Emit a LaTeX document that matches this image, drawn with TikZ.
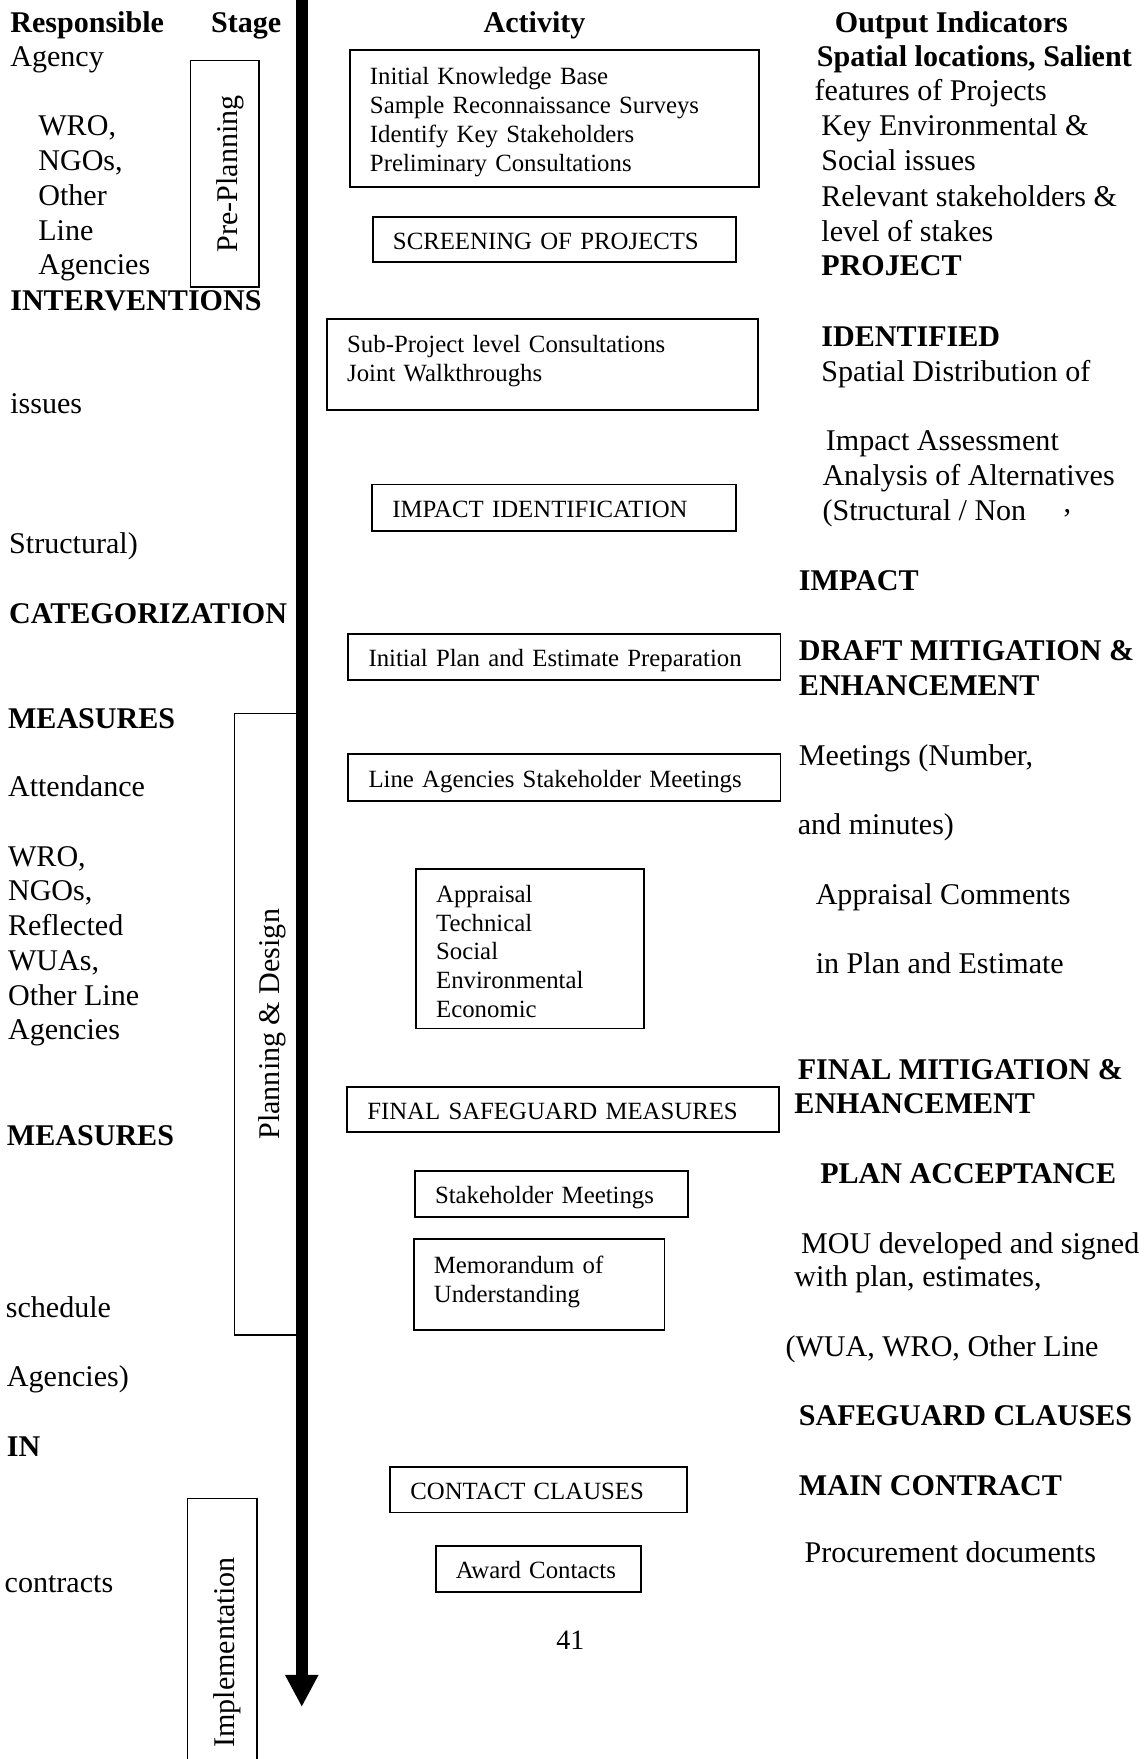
\documentclass[tikz,border=0pt]{standalone}
\usepackage{fontspec}
\setmainfont{Liberation Serif}
\usepackage{tikz}
\usetikzlibrary{arrows.meta, positioning}

\newcommand{\colfont}{\fontsize{26.8pt}{31pt}\selectfont}
\newcommand{\actfont}{\fontsize{22.1pt}{25.8pt}\selectfont}

\begin{document}
\begin{tikzpicture}[
  x=1pt, y=-1pt,
  txt/.style={anchor=base west, inner sep=0pt, font=\colfont},
  txtb/.style={txt, font=\colfont\bfseries},
  act/.style={draw, line width=1.6pt, anchor=north west, inner xsep=0pt, inner ysep=0pt,
    align=left, font=\actfont, text height=17.6pt, text depth=0pt,
    execute at begin node={\leftskip=18pt}},
  stagebox/.style={draw, line width=1.3pt, rotate=90, inner sep=0pt, font=\colfont,
    text height=28pt, text depth=6pt},
  flow/.style={line width=10.5pt, -{Triangle[width=30pt, length=28pt, line width=0pt]}},
]
\useasboundingbox (0,0) rectangle (1021,1568);

% Headers
\node[txtb] (ra-head) at (9,29) {Responsible};
\node[txtb] (st-head) at (188,29) {Stage};
\node[anchor=base, inner sep=0pt, font=\colfont\bfseries] (act-head) at (476.5,29) {Activity};
\node[txtb] (oi-head) at (744,29) {Output Indicators};

% Responsible agency (left column)
\node[txt] (ra-agency) at (9,59) {Agency};
\node[txt] (ra-wro) at (34,121) {WRO,};
\node[txt] (ra-ngo) at (34,152) {NGOs,};
\node[txt] (ra-other) at (34,183) {Other};
\node[txt] (ra-line) at (34,214) {Line};
\node[txt] (ra-agencies) at (34,245) {Agencies};
\node[txtb] (ra-interv) at (9,277) {INTERVENTIONS};
\node[txt] (ra-issues) at (9,369) {issues};
\node[txt] (ra-struct) at (8,493) {Structural)};
\node[txtb] (ra-categ) at (8,556) {CATEGORIZATION};
\node[txtb] (ra-meas) at (7,649) {MEASURES};
\node[txt] (ra-attend) at (7,710) {Attendance};
\node[txt] (ra-wro2) at (7,772) {WRO,};
\node[txt] (ra-ngo2) at (7,803) {NGOs,};
\node[txt] (ra-refl) at (7,834) {Reflected};
\node[txt] (ra-wua) at (7,865) {WUAs,};
\node[txt] (ra-othline) at (7,896) {Other Line};
\node[txt] (ra-agencies2) at (7,927) {Agencies};
\node[txtb] (ra-meas2) at (6,1021) {MEASURES};
\node[txt] (ra-sched) at (5,1174) {schedule};
\node[txt] (ra-agencies3) at (6,1236) {Agencies)};
\node[txtb] (ra-in) at (6,1298) {IN};
\node[txt] (ra-contr) at (4,1420) {contracts};

% Stages
\node[stagebox, minimum width=202pt, minimum height=61pt] (st-pre) at (200.5,155) {Pre-Planning};
\node[stagebox, minimum width=554pt, minimum height=59pt] (st-plan) at (238.5,913) {Planning \& Design};
\node[stagebox, minimum width=274pt, minimum height=62pt] (st-impl) at (198,1473) {Implementation};

% Activities
\node[act, text width=365pt, minimum height=122pt, text depth=79pt] (act-know) at (311,44)
  {Initial Knowledge Base\\Sample Reconnaissance Surveys\\Identify Key Stakeholders\\Preliminary Consultations};
\node[act, text width=324pt, minimum height=40pt] (act-screen) at (331.5,192.6) {SCREENING OF PROJECTS};
\node[act, text width=384.5pt, minimum height=81.4pt, text depth=39.6pt] (act-sub) at (290.7,283.6)
  {Sub-Project level Consultations\\Joint Walkthroughs};
\node[act, text width=324pt, minimum height=41.6pt] (act-impact) at (331,431) {IMPACT IDENTIFICATION};
\node[act, text width=385.3pt, minimum height=41.5pt] (act-init) at (309.7,564) {Initial Plan and Estimate Preparation};
\node[act, text width=385.3pt, minimum height=42pt] (act-lineag) at (309.7,671.5) {Line Agencies Stakeholder Meetings};
\node[act, text width=203pt, minimum height=142pt, text depth=101pt] (act-appr) at (370,774)
  {Appraisal\\Technical\\Social\\Environmental\\Economic};
\node[act, text width=384.7pt, minimum height=40.5pt] (act-final) at (308.6,968) {FINAL SAFEGUARD MEASURES};
\node[act, text width=243.5pt, minimum height=41pt] (act-stake) at (369,1043) {Stakeholder Meetings};
\node[act, text width=223.6pt, minimum height=81pt, text depth=38pt] (act-mou) at (368,1104) {Memorandum of\\Understanding};
\node[act, text width=264.5pt, minimum height=40.5pt] (act-contact) at (347,1307) {CONTACT CLAUSES};
\node[act, text width=183.2pt, minimum height=41pt] (act-award) at (387.5,1377) {Award Contacts};

% Output indicators (right column)
\node[txtb] (oi-spat) at (728,59) {Spatial locations, Salient};
\node[txt] (oi-feat) at (726,90) {features of Projects};
\node[txt] (oi-key) at (732,121) {Key Environmental \&};
\node[txt] (oi-social) at (732,152) {Social issues};
\node[txt] (oi-relev) at (732,184) {Relevant stakeholders \&};
\node[txt] (oi-level) at (732,215) {level of stakes};
\node[txtb] (oi-proj) at (732,246) {PROJECT};
\node[txtb] (oi-ident) at (732,309) {IDENTIFIED};
\node[txt] (oi-spdist) at (732,340) {Spatial Distribution of};
\node[txt] (oi-impass) at (736,402) {Impact Assessment};
\node[txt] (oi-analys) at (733,433) {Analysis of Alternatives};
\node[txt] (oi-strnon) at (733,464) {(Structural / Non};
\node[txt] (oi-mark) at (948,457) {,};
\node[txtb] (oi-impact) at (712,526) {IMPACT};
\node[txtb] (oi-draft) at (712,589) {DRAFT MITIGATION \&};
\node[txtb] (oi-enh) at (712,620) {ENHANCEMENT};
\node[txt] (oi-meet) at (712,682) {Meetings (Number,};
\node[txt] (oi-minut) at (711,744) {and minutes)};
\node[txt] (oi-apcom) at (727,806) {Appraisal Comments};
\node[txt] (oi-inplan) at (727,868) {in Plan and Estimate};
\node[txtb] (oi-final) at (711,962) {FINAL MITIGATION \&};
\node[txtb] (oi-enh2) at (708,993) {ENHANCEMENT};
\node[txtb] (oi-planacc) at (731,1055) {PLAN ACCEPTANCE};
\node[txt] (oi-mou) at (714,1117) {MOU developed and signed};
\node[txt] (oi-withpl) at (708,1147) {with plan, estimates,};
\node[txt] (oi-wua) at (700,1209) {(WUA, WRO, Other Line};
\node[txtb] (oi-sgcl) at (712,1271) {SAFEGUARD CLAUSES};
\node[txtb] (oi-mainc) at (712,1333) {MAIN CONTRACT};
\node[txt] (oi-procur) at (717,1393) {Procurement documents};

% Page number
\node[anchor=base, inner sep=0pt, font=\fontsize{25pt}{30pt}\selectfont] (pagenum) at (508.5,1470) {41};

% Time axis
\coordinate (flow-top) at (269,0);
\coordinate (flow-end) at (269,1521);
\draw[flow] (flow-top) -- (flow-end);

\end{tikzpicture}
\end{document}
